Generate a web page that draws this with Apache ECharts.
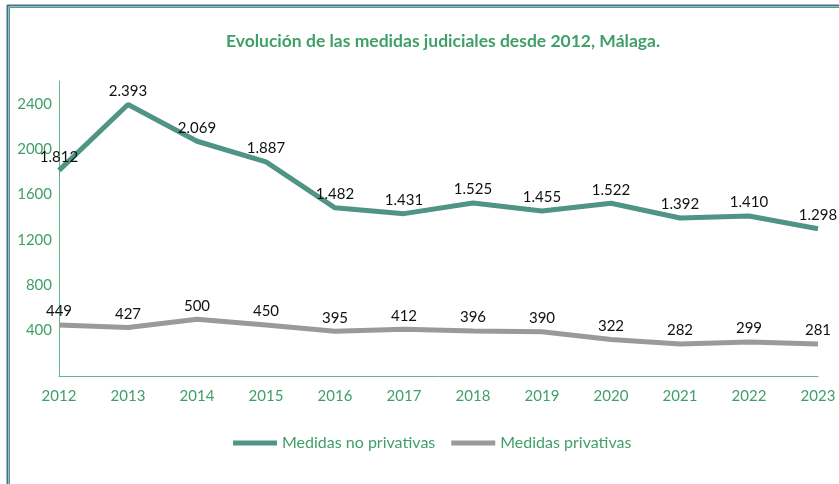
<!DOCTYPE html>
<html>
<head>
<meta charset="utf-8">
<script src="https://cdn.jsdelivr.net/npm/echarts@6/dist/echarts.min.js"></script>
<style>
  html, body { margin: 0; padding: 0; background: #fff; }
  #chart { width: 839px; height: 484px; }
</style>
</head>
<body>
<div id="chart"></div>
<script>
const years = ['2012', '2013', '2014', '2015', '2016', '2017', '2018', '2019', '2020', '2021', '2022', '2023'];
const noPrivativas = [1812, 2393, 2069, 1887, 1482, 1431, 1525, 1455, 1522, 1392, 1410, 1298];
const privativas = [449, 427, 500, 450, 395, 412, 396, 390, 322, 282, 299, 281];

const green = '#3f9f68';
const fontFam = 'Lato, "Open Sans", sans-serif';

// 1812 -> "1.812"
const fmt = (v) => String(v).replace(/\B(?=(\d{3})+(?!\d))/g, '.');

const labelStyle = {
    show: true,
    position: 'top',
    distance: 6,
    color: '#111',
    fontSize: 15,
    fontFamily: fontFam,
    formatter: (p) => fmt(p.value)
};

let chart = echarts.init(document.getElementById('chart'));

let option = {
    backgroundColor: '#fff',
    animation: false,
    title: {
        text: 'Evolución de las medidas judiciales desde 2012, Málaga.',
        left: 438,
        textAlign: 'center',
        top: 27,
        textStyle: {
            color: green,
            fontSize: 17.5,
            fontWeight: 'bold',
            fontFamily: fontFam
        }
    },
    graphic: [
        {type: 'line', shape: {x1: 7.5, y1: 5, x2: 7.5, y2: 484}, style: {stroke: '#4a6a9a', lineWidth: 2}},
        {type: 'line', shape: {x1: 7, y1: 5.5, x2: 839, y2: 5.5}, style: {stroke: '#4a6a9a', lineWidth: 2}},
        {type: 'line', shape: {x1: 9.5, y1: 7, x2: 9.5, y2: 484}, style: {stroke: '#3fae6a', lineWidth: 1}},
        {type: 'line', shape: {x1: 9, y1: 7.5, x2: 839, y2: 7.5}, style: {stroke: '#3fae6a', lineWidth: 1}}
    ],
    legend: {
        bottom: 28,
        left: 228,
        icon: 'rect',
        itemWidth: 44,
        itemHeight: 5,
        itemGap: 16,
        textStyle: {color: green, fontSize: 16, fontFamily: fontFam},
        data: ['Medidas no privativas', 'Medidas privativas']
    },
    grid: {
        left: 59,
        right: 21,
        top: 81,
        bottom: 108,
        containLabel: false
    },
    xAxis: {
        type: 'category',
        boundaryGap: false,
        data: years,
        axisLine: {lineStyle: {color: '#5fb887', width: 1}},
        axisTick: {show: false},
        axisLabel: {color: green, fontSize: 15, fontFamily: fontFam, margin: 13}
    },
    yAxis: {
        type: 'value',
        min: 0,
        max: 2600,
        interval: 400,
        axisLine: {show: true, lineStyle: {color: '#5fb887', width: 1}},
        axisTick: {show: false},
        splitLine: {show: false},
        axisLabel: {
            color: green,
            fontSize: 15,
            fontFamily: fontFam,
            margin: 7,
            showMinLabel: false,
            showMaxLabel: false,
            formatter: (v) => (v === 0 || v > 2400) ? '' : v
        }
    },
    series: [
        {
            name: 'Medidas no privativas',
            type: 'line',
            data: noPrivativas,
            symbol: 'circle',
            symbolSize: 0,
            color: '#4f9484',
            lineStyle: {width: 5, color: '#4f9484'},
            label: labelStyle
        },
        {
            name: 'Medidas privativas',
            type: 'line',
            data: privativas,
            symbol: 'circle',
            symbolSize: 0,
            color: '#9a9a9a',
            lineStyle: {width: 5, color: '#9a9a9a'},
            label: labelStyle
        }
    ]
};

chart.setOption(option);
</script>
</body>
</html>
